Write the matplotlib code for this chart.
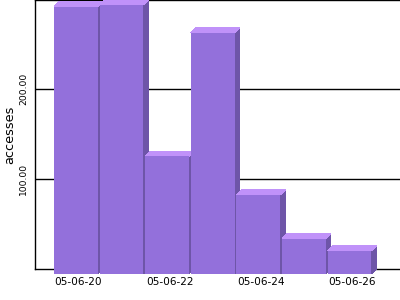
import matplotlib
matplotlib.use("Agg")
import matplotlib.pyplot as plt
from matplotlib.patches import Polygon

dates = ["05-06-20", "05-06-21", "05-06-22", "05-06-23", "05-06-24", "05-06-25", "05-06-26"]
accesses = [297, 299, 131, 268, 88, 39, 26]
ytick_vals = [100, 200]
ytick_labels = ["100.00", "200.00"]
label_idx = [0, 2, 4, 6]

W, H = 400, 300
fig = plt.figure(figsize=(4, 3), dpi=100)
ax = fig.add_axes([35 / W, 31 / H, 365 / W, 269 / H])
ax.set_xlim(-0.897, 7.107)
ax.set_ylim(0, 299)

px_x = 365 / (7.107 + 0.897)   # pixels per x unit
px_y = 269 / 299               # pixels per y unit
dx = 5 / px_x
dy = 5 / px_y
bw = 0.96

front_c = "#9370DB"
top_c = "#C092F9"
side_c = "#6E55A8"

for i, v in enumerate(accesses):
    xl, xr = i - bw / 2, i + bw / 2
    z = 3 + i * 0.1
    side = Polygon([(xr, -dy), (xr + dx, 0), (xr + dx, v), (xr, v - dy)],
                   closed=True, facecolor=side_c, edgecolor="none", clip_on=False,
                   zorder=z, antialiased=False)
    top = Polygon([(xl, v - dy), (xl + dx, v), (xr + dx, v), (xr, v - dy)],
                  closed=True, facecolor=top_c, edgecolor="none", clip_on=False,
                  zorder=z, antialiased=False)
    front = Polygon([(xl, -dy), (xr, -dy), (xr, v - dy), (xl, v - dy)],
                    closed=True, facecolor=front_c, edgecolor="none", clip_on=False,
                    zorder=z + 0.01, antialiased=False)
    ax.add_patch(side)
    ax.add_patch(top)
    ax.add_patch(front)

for y in ytick_vals:
    ax.axhline(y, color="black", linewidth=1, zorder=1)

for s in ["left", "bottom", "top"]:
    ax.spines[s].set_linewidth(1)
    ax.spines[s].set_color("black")
    ax.spines[s].set_zorder(1)
ax.spines["right"].set_visible(False)

ax.set_xticks([i + dx / 2 for i in label_idx])
ax.set_xticklabels([dates[i] for i in label_idx], fontsize=7.6, family="DejaVu Sans")
ax.set_yticks(ytick_vals)
ax.set_yticklabels(ytick_labels, fontsize=6.6, rotation=90, va="center", family="DejaVu Sans")
ax.tick_params(axis="both", length=0)
ax.tick_params(axis="x", pad=5.5)
ax.tick_params(axis="y", pad=5.0)

fig.text(9.5 / W, 1 - 134.5 / H, "accesses", rotation=90, ha="center", va="center",
         fontsize=9.3, family="DejaVu Sans")

fig.savefig("out.png", dpi=100)
